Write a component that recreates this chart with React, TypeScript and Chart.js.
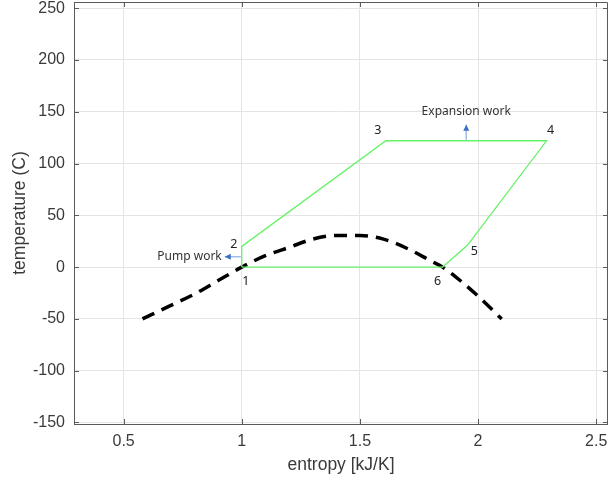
import React, { useEffect, useRef } from "react";
import { Chart, registerables } from "chart.js";

Chart.register(...registerables);

// saturation dome (dashed)
const domeS = [0.58, 0.7, 0.8, 0.9, 1.0, 1.1, 1.2, 1.3, 1.4, 1.5, 1.6, 1.7, 1.8, 1.85, 1.93, 2.0, 2.1];
const domeT = [-50, -37, -26, -13, 0, 11, 19, 27, 30.5, 30.5, 27, 18, 6, 0, -14, -28, -50];

// cycle points 1..6 then back to 1
const cycleLabels = ["1", "2", "3", "4", "5", "6"];
const cycleS = [1.0, 1.0, 1.61, 2.29, 1.955, 1.85];
const cycleT = [0, 20, 122, 122, 21, 0];

const xTicks = [0.5, 1, 1.5, 2, 2.5];
const yTicks = [-150, -100, -50, 0, 50, 100, 150, 200, 250];

const X_MIN = 0.29, X_MAX = 2.55;
const Y_MIN = -151.5, Y_MAX = 256;

const labelOffsets: [number, number][] = [
  [4, 14], [-8, -2], [-8, -10], [4, -10], [7, 6], [-5, 14],
];

export default function App() {
  const ref = useRef<HTMLCanvasElement>(null);
  useEffect(() => {
    document.body.style.margin = "0";
    const canvas = ref.current!;
    const dome = domeS.map((s, i) => ({ x: s, y: domeT[i] }));
    const cyc = cycleS.map((s, i) => ({ x: s, y: cycleT[i] }));
    cyc.push({ ...cyc[0] });

    const overlay = {
      id: "overlay",
      afterDraw(chart: any) {
        const { ctx, chartArea: a, scales } = chart;
        const xs = scales.x, ys = scales.y;
        ctx.save();
        // border box
        ctx.strokeStyle = "#5a5a5a";
        ctx.lineWidth = 1;
        ctx.beginPath();
        ctx.moveTo(a.left + 0.5, a.bottom + 0.5);
        ctx.lineTo(a.left + 0.5, a.top + 0.5);
        ctx.lineTo(a.right - 0.5, a.top + 0.5);
        ctx.lineTo(a.right - 0.5, a.bottom + 0.5);
        ctx.lineTo(a.left + 0.5, a.bottom + 0.5);
        ctx.stroke();
        // inward ticks
        ctx.beginPath();
        xTicks.forEach((t) => {
          const px = Math.round(xs.getPixelForValue(t)) + 0.5;
          ctx.moveTo(px, a.bottom);
          ctx.lineTo(px, a.bottom - 5);
          ctx.moveTo(px, a.top);
          ctx.lineTo(px, a.top + 5);
        });
        yTicks.forEach((t) => {
          const py = Math.round(ys.getPixelForValue(t)) + 0.5;
          ctx.moveTo(a.left, py);
          ctx.lineTo(a.left + 5, py);
          ctx.moveTo(a.right, py);
          ctx.lineTo(a.right - 5, py);
        });
        ctx.stroke();

        // point labels
        ctx.fillStyle = "#222";
        ctx.font = "12.5px 'Noto Sans', sans-serif";
        ctx.textAlign = "center";
        ctx.textBaseline = "middle";
        cycleLabels.forEach((lab, i) => {
          const px = xs.getPixelForValue(cycleS[i]) + labelOffsets[i][0];
          const py = ys.getPixelForValue(cycleT[i]) + labelOffsets[i][1];
          ctx.fillText(lab, px, py);
        });

        const arrow = (x1: number, y1: number, x2: number, y2: number) => {
          ctx.strokeStyle = "#9fbde6";
          ctx.lineWidth = 1.5;
          ctx.beginPath();
          ctx.moveTo(x1, y1);
          ctx.lineTo(x2, y2);
          ctx.stroke();
          const ang = Math.atan2(y2 - y1, x2 - x1);
          const L = 6, W = 3;
          ctx.fillStyle = "#3b6fc4";
          ctx.beginPath();
          ctx.moveTo(x2, y2);
          ctx.lineTo(x2 - L * Math.cos(ang) + W * Math.sin(ang), y2 - L * Math.sin(ang) - W * Math.cos(ang));
          ctx.lineTo(x2 - L * Math.cos(ang) - W * Math.sin(ang), y2 - L * Math.sin(ang) + W * Math.cos(ang));
          ctx.closePath();
          ctx.fill();
        };

        // pump work: along 1-2 leg
        const pX = xs.getPixelForValue(cycleS[0]);
        const pY = ys.getPixelForValue((cycleT[0] + cycleT[1]) / 2);
        arrow(pX - 1, pY, pX - 17, pY);
        ctx.fillStyle = "#333";
        ctx.font = "12px 'Noto Sans', sans-serif";
        ctx.textAlign = "right";
        ctx.textBaseline = "middle";
        ctx.fillText("Pump work", pX - 20, pY);

        // expansion work: on 3-4 leg
        const eX = xs.getPixelForValue(1.95);
        const eY = ys.getPixelForValue(cycleT[2]);
        arrow(eX, eY - 1, eX, eY - 16);
        ctx.fillStyle = "#333";
        ctx.textAlign = "center";
        ctx.fillText("Expansion work", eX, eY - 29);
        ctx.restore();
      },
    };

    const chart = new Chart(canvas, {
      type: "scatter",
      data: {
        datasets: [
          {
            data: cyc,
            showLine: true,
            borderColor: "#66f266",
            borderWidth: 1.3,
            pointRadius: 0,
            tension: 0,
          },
          {
            data: dome,
            showLine: true,
            borderColor: "#000",
            borderWidth: 3.5,
            borderDash: [13, 8],
            pointRadius: 0,
            cubicInterpolationMode: "monotone",
          },
        ],
      },
      options: {
        animation: false,
        responsive: false,
        devicePixelRatio: 1,
        layout: { padding: { top: 2, right: 0, bottom: 0, left: 0 } },
        plugins: { legend: { display: false }, tooltip: { enabled: false } },
        scales: {
          x: {
            type: "linear",
            min: X_MIN,
            max: X_MAX,
            afterBuildTicks: (s: any) => { s.ticks = xTicks.map((v) => ({ value: v })); },
            afterFit: (s: any) => { s.height = 57; s.paddingLeft = 0; s.paddingRight = 0; },
            grid: { color: "#e4e4e4", drawTicks: false },
            border: { color: "#5a5a5a" },
            ticks: {
              padding: 8,
              color: "#3a3a3a",
              font: { family: "'Liberation Sans', Arial, sans-serif", size: 16 },
              callback: (v: any) => String(v),
            },
            title: {
              display: true,
              text: "entropy [kJ/K]",
              color: "#3a3a3a",
              font: { family: "'Liberation Sans', Arial, sans-serif", size: 17.5 },
              padding: { top: 0, bottom: 5 },
            },
          },
          y: {
            type: "linear",
            min: Y_MIN,
            max: Y_MAX,
            afterBuildTicks: (s: any) => { s.ticks = yTicks.map((v) => ({ value: v })); },
            afterFit: (s: any) => { s.width = 74; s.paddingTop = 0; s.paddingBottom = 0; },
            grid: { color: "#e4e4e4", drawTicks: false },
            border: { color: "#5a5a5a" },
            ticks: {
              padding: 9,
              color: "#3a3a3a",
              font: { family: "'Liberation Sans', Arial, sans-serif", size: 16 },
              callback: (v: any) => String(v),
            },
            title: {
              display: true,
              text: "temperature (C)",
              color: "#3a3a3a",
              font: { family: "'Liberation Sans', Arial, sans-serif", size: 17.5 },
              padding: { top: 10, bottom: 0 },
            },
          },
        },
      },
      plugins: [overlay],
    });
    return () => chart.destroy();
  }, []);
  return <canvas ref={ref} width={608} height={481} style={{ display: "block" }} />;
}
